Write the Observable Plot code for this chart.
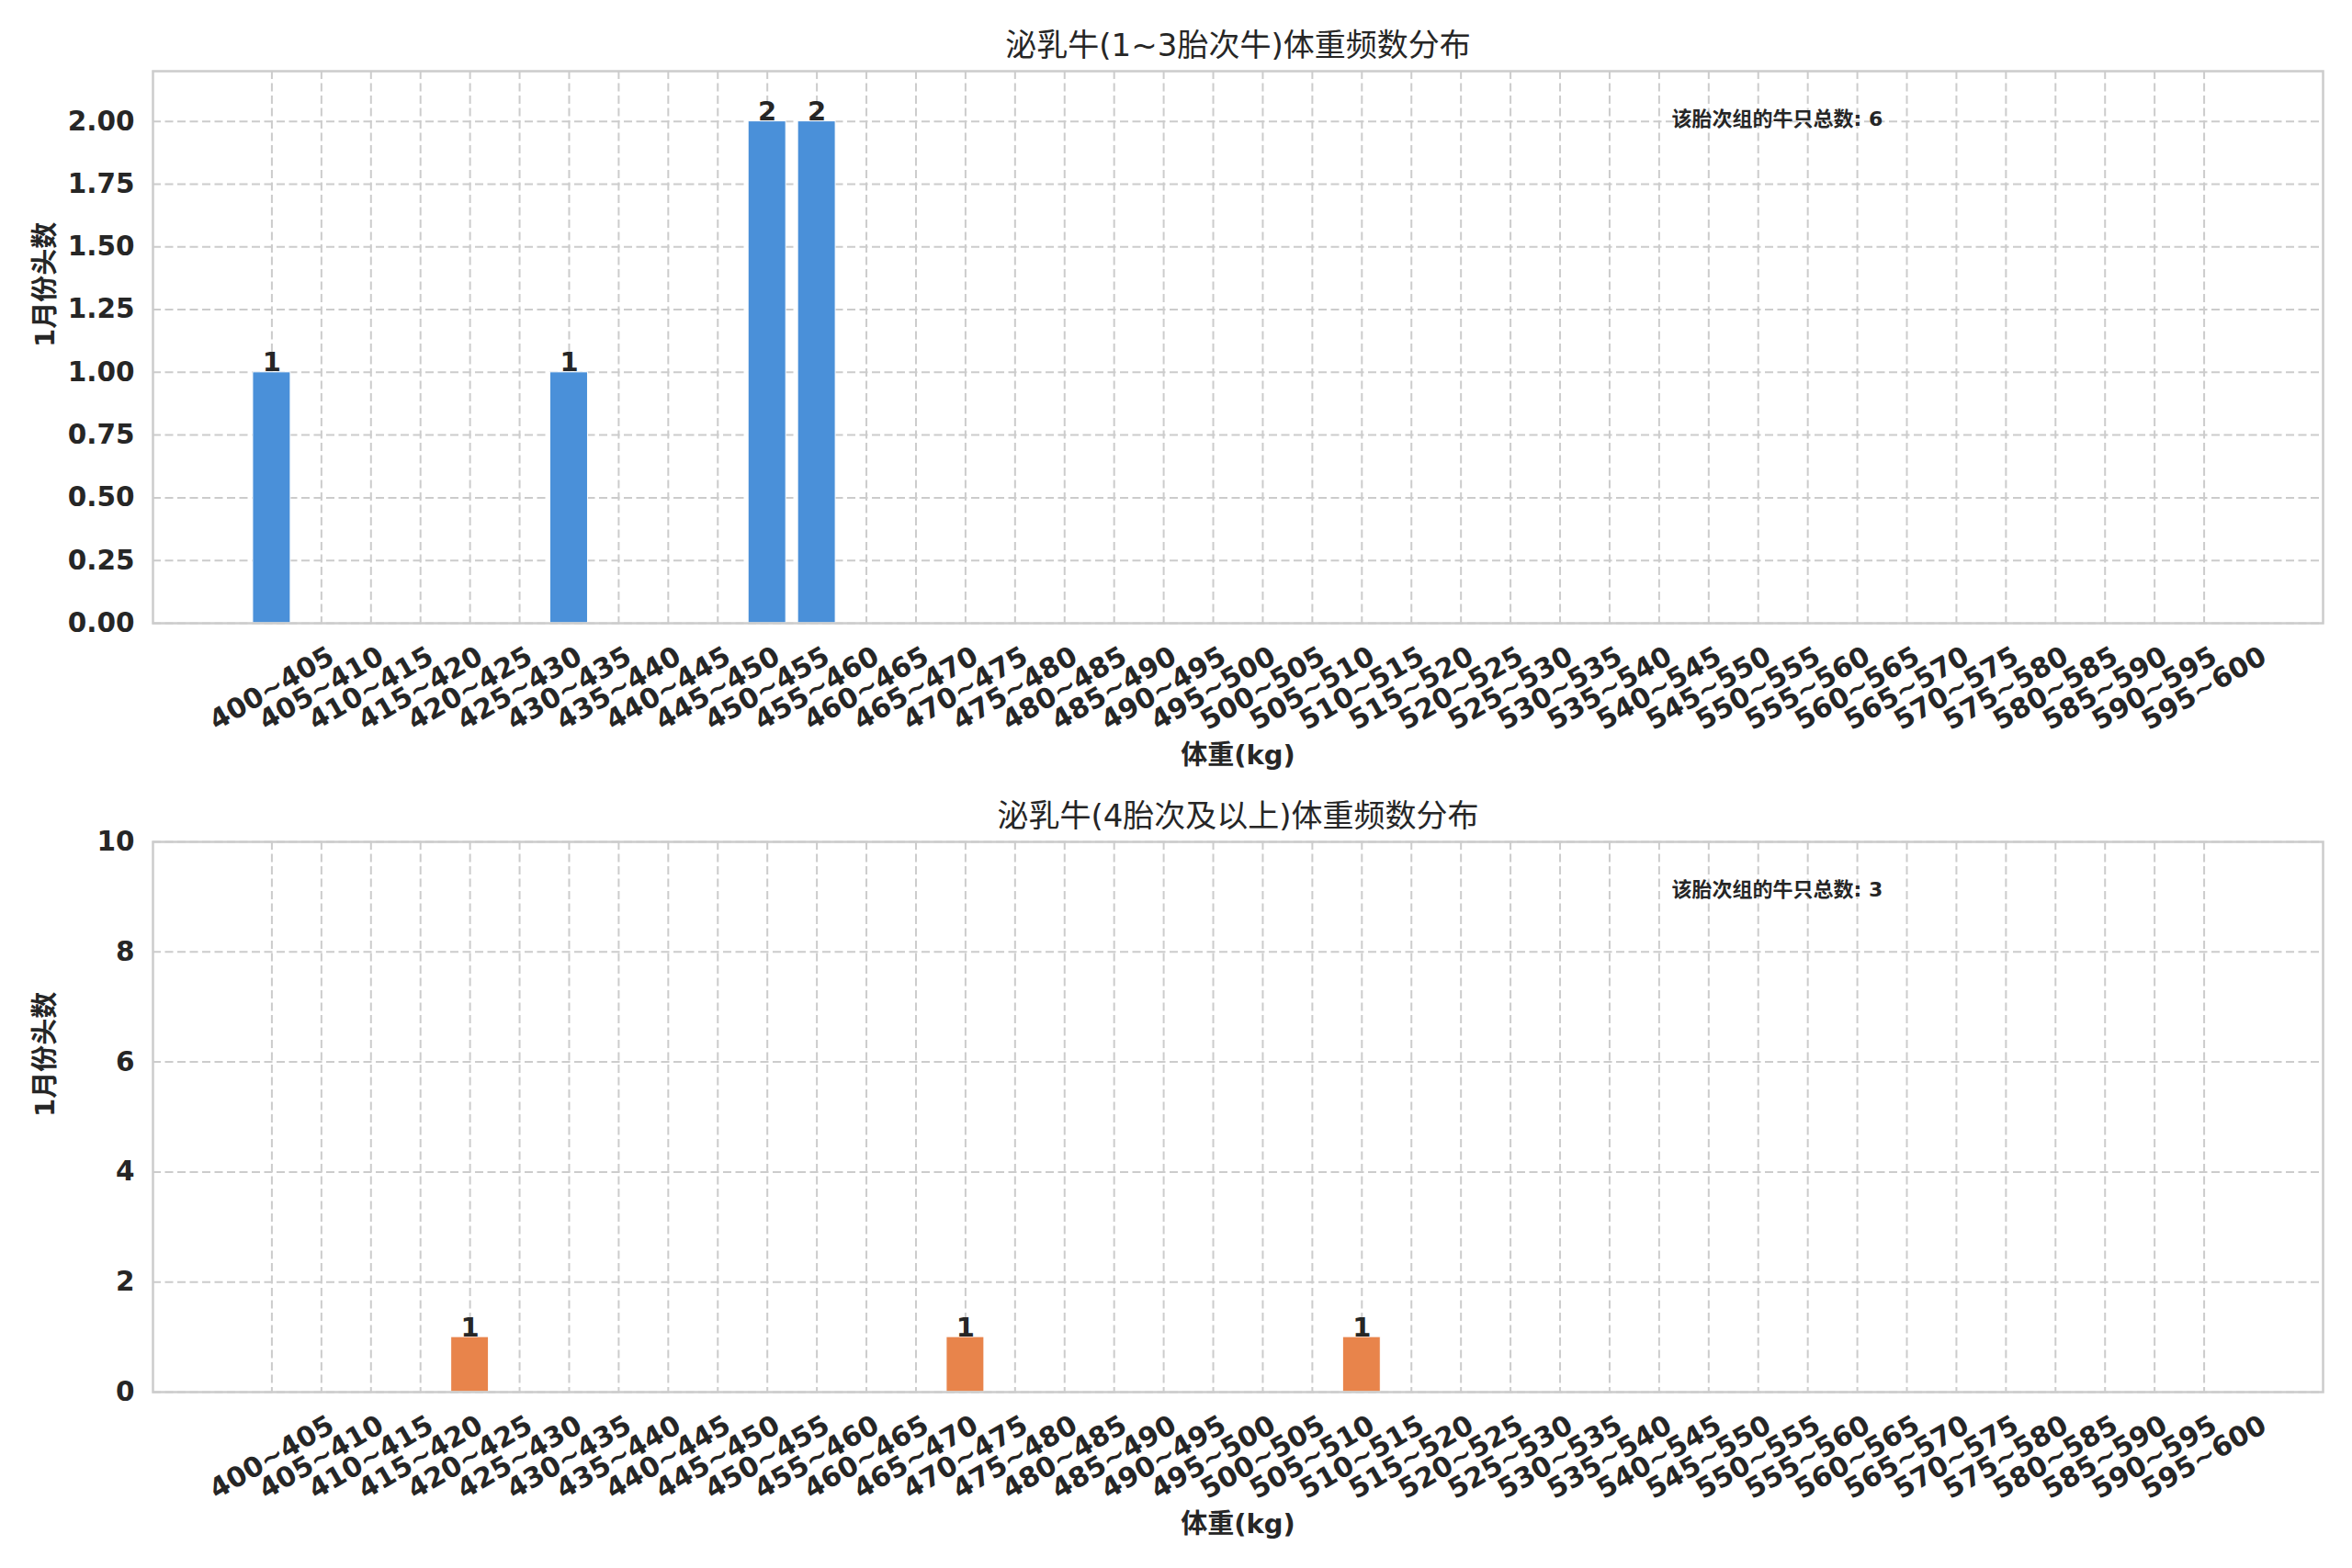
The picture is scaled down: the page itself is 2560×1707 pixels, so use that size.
<!DOCTYPE html>
<html>
<head>
<meta charset="utf-8">
<script src="https://cdn.jsdelivr.net/npm/d3@7"></script>
<script src="https://cdn.jsdelivr.net/npm/@observablehq/plot@0.6"></script>
<style>
  html, body { margin: 0; padding: 0; background: #ffffff; }
  svg { display: block; }
</style>
</head>
<body>
<div id="chart"></div>
<script>
const binLabels = [
  "400~405","405~410","410~415","415~420","420~425","425~430","430~435","435~440",
  "440~445","445~450","450~455","455~460","460~465","465~470","470~475","475~480",
  "480~485","485~490","490~495","495~500","500~505","505~510","510~515","515~520",
  "520~525","525~530","530~535","535~540","540~545","545~550","550~555","555~560",
  "560~565","565~570","570~575","575~580","580~585","585~590","590~595","595~600"
];
const countsGroup1 = [
  1,0,0,0,0,0,1,0, 0,0,2,2,0,0,0,0, 0,0,0,0,0,0,0,0, 0,0,0,0,0,0,0,0, 0,0,0,0,0,0,0,0
];
const countsGroup2 = [
  0,0,0,0,1,0,0,0, 0,0,0,0,0,0,1,0, 0,0,0,0,0,0,1,0, 0,0,0,0,0,0,0,0, 0,0,0,0,0,0,0,0
];
const yTicksGroup1 = [0, 0.25, 0.5, 0.75, 1, 1.25, 1.5, 1.75, 2];
const yTicksGroup2 = [0, 2, 4, 6, 8, 10];
const yDomainGroup1 = [0, 2.2];
const yDomainGroup2 = [0, 10];
const titles = ["泌乳牛(1~3胎次牛)体重频数分布", "泌乳牛(4胎次及以上)体重频数分布"];
const xLabel = "体重(kg)";
const yLabel = "1月份头数";
const totalLabel = "该胎次组的牛只总数";
const colors = ["#4a90d9", "#e8844b"];

const FONT = "'DejaVu Sans', 'Noto Sans CJK SC', sans-serif";
const INK = "#262626";
const GRID = "#cccccc";

function chart({counts, color, yDomain, yTicks, yFmt, title, height, mt, mb}) {
  const data = binLabels.map((b, i) => ({bin: b, count: counts[i]}));
  const nz = data.filter(d => d.count > 0);
  const total = d3.sum(counts);
  return Plot.plot({
    width: 2560, height,
    marginTop: mt, marginBottom: mb, marginLeft: 166, marginRight: 32,
    style: {fontFamily: FONT, fontSize: "28px", color: INK, background: "white", overflow: "visible"},
    x: {type: "band", domain: binLabels, paddingInner: 0.24, paddingOuter: 2.02, align: 0.5, axis: null},
    y: {domain: yDomain, axis: null},
    marks: [
      Plot.ruleY(yTicks, {stroke: GRID, strokeWidth: 2, strokeDasharray: "9,4.5"}),
      Plot.ruleX(binLabels, {x: d => d, stroke: GRID, strokeWidth: 2, strokeDasharray: "9,4.5"}),
      Plot.barY(data, {x: "bin", y: "count", fill: color, stroke: "white", strokeWidth: 1}),
      Plot.frame({stroke: GRID, strokeWidth: 2.5}),
      Plot.text(nz, {x: "bin", y: "count", text: d => String(d.count), lineAnchor: "bottom", dy: -1,
        fontWeight: "bold", fontSize: 29, fill: INK}),
      Plot.text(yTicks, {y: d => d, text: d => yFmt(d), frameAnchor: "left", dx: -20, textAnchor: "end",
        lineAnchor: "middle", fontWeight: "bold", fontSize: 29.5, fill: INK}),
      Plot.text(binLabels, {x: d => d, text: d => d, frameAnchor: "bottom", dy: 71, rotate: -30,
        textAnchor: "middle", lineAnchor: "middle", fontWeight: "bold", fontSize: 30, fill: INK}),
      Plot.text([xLabel], {text: d => d, frameAnchor: "bottom", dy: 144, lineAnchor: "middle",
        fontWeight: "bold", fontSize: 29, fill: INK}),
      Plot.text([yLabel], {text: d => d, frameAnchor: "left", dx: -117, rotate: -90, lineAnchor: "middle",
        fontWeight: "bold", fontSize: 29, fill: INK}),
      Plot.text([title], {text: d => d, frameAnchor: "top", dy: -27, lineAnchor: "middle",
        fontSize: 34, fill: INK}),
      Plot.text([`${totalLabel}: ${total}`], {text: d => d, frameAnchor: "top-left", dx: 1653, dy: 52,
        textAnchor: "start", lineAnchor: "middle", fontWeight: "bold", fontSize: 22, fill: INK})
    ]
  });
}

const root = document.getElementById("chart");
root.append(chart({
  counts: countsGroup1, color: colors[0], yDomain: yDomainGroup1, yTicks: yTicksGroup1,
  yFmt: d3.format(".2f"), title: titles[0], height: 850, mt: 77, mb: 172
}));
root.append(chart({
  counts: countsGroup2, color: colors[1], yDomain: yDomainGroup2, yTicks: yTicksGroup2,
  yFmt: d3.format("d"), title: titles[1], height: 857, mt: 66, mb: 192
}));
</script>
</body>
</html>
